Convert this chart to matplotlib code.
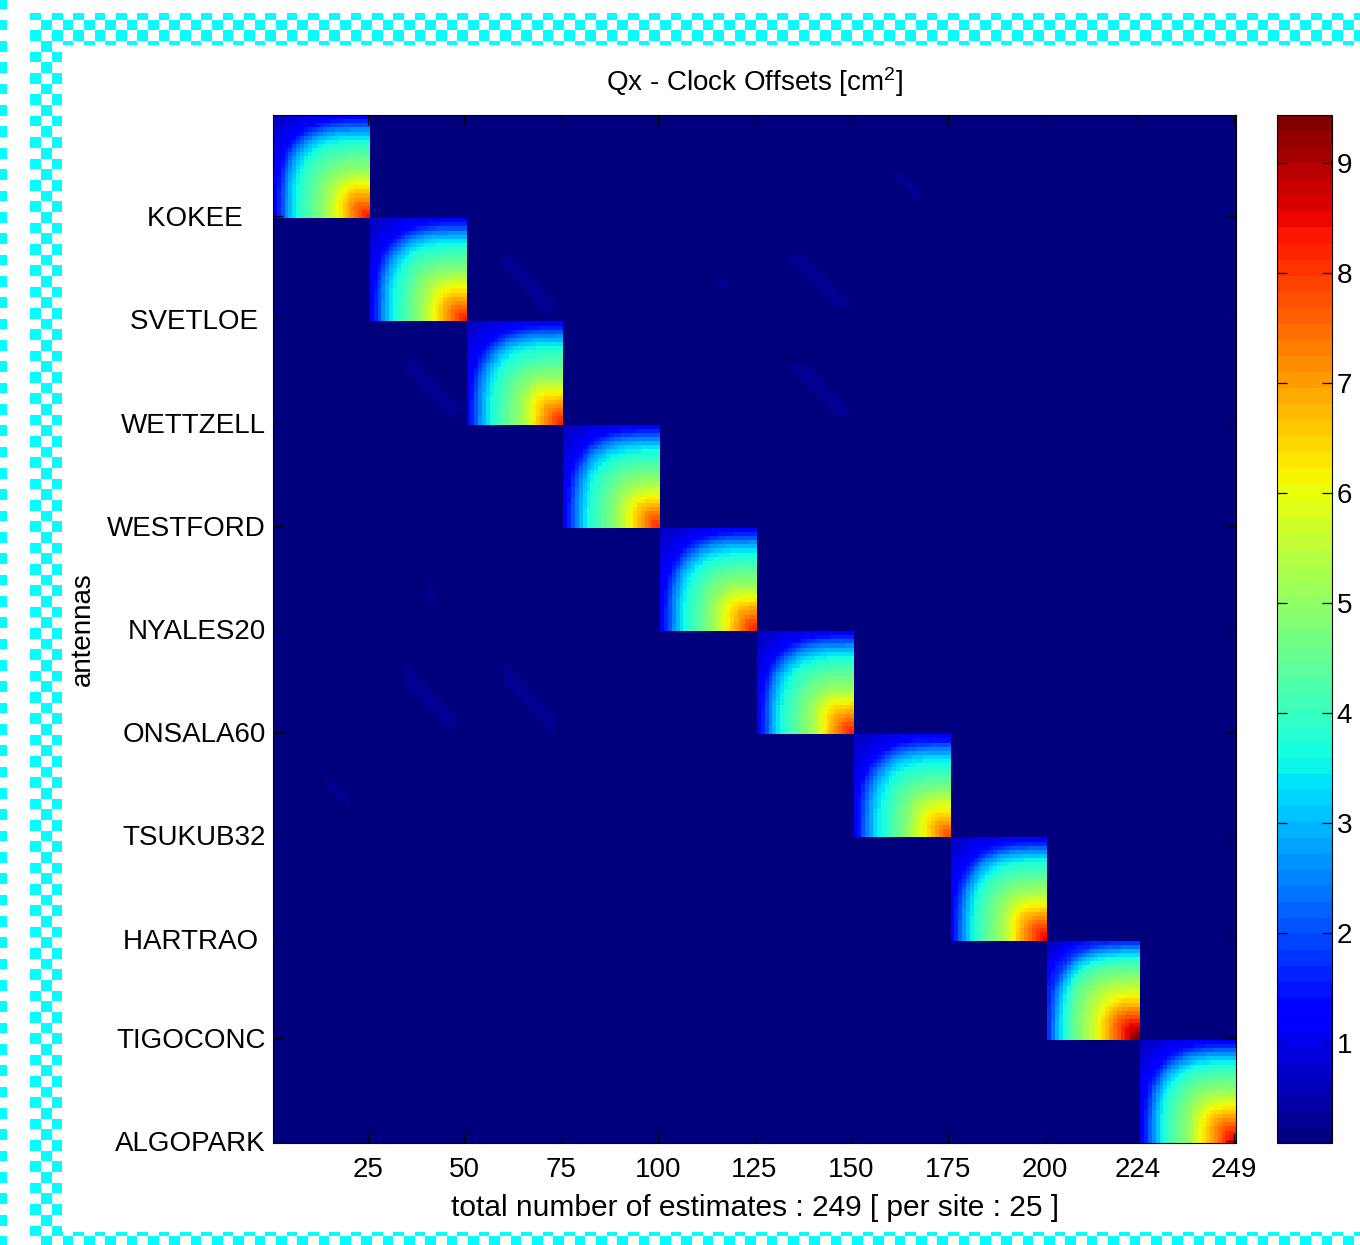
import numpy as np
import matplotlib
matplotlib.use("Agg")
from matplotlib import pyplot as plt

plt.rcParams['font.family'] = ['Liberation Sans', 'DejaVu Sans']
plt.rcParams['mathtext.fontset'] = 'custom'
plt.rcParams['mathtext.rm'] = 'Liberation Sans'
plt.rcParams['mathtext.it'] = 'Liberation Sans'

# stations (padded like the original MATLAB labels)
stations = ['KOKEE   ', 'SVETLOE ', 'WETTZELL', 'WESTFORD', 'NYALES20',
            'ONSALA60', 'TSUKUB32', 'HARTRAO ', 'TIGOCONC', 'ALGOPARK']
block_sizes = [25, 25, 25, 25, 25, 25, 25, 25, 24, 25]
# value at the bottom-right corner of each block [cm^2]
block_peaks = [8.3, 8.3, 8.2, 8.1, 8.2, 8.2, 7.8, 8.6, 9.44, 8.7]
# values read along the bottom row of the KOKEE block [cm^2]
edge_profile = [1.2, 1.6, 2.1, 2.6, 3.0, 3.4, 3.7, 3.9, 4.1, 4.3, 4.5, 4.7, 4.9,
                5.1, 5.4, 5.7, 6.0, 6.3, 6.6, 6.9, 7.2, 7.5, 7.8, 8.1, 8.3]
block_base = 0.7
background = 0.11
# faint correlations between sites: (row, col, length, half width, value)
streaks = [(15, 162, 6, 1, 0.3), (36, 61, 12, 2, 0.3), (41, 116, 2, 1, 0.28),
           (35, 136, 13, 2, 0.38), (61, 136, 13, 2, 0.32), (61, 36, 12, 2, 0.3)]
tick_pos = [25, 50, 75, 100, 125, 150, 175, 200, 224, 249]
cbar_ticks = [1, 2, 3, 4, 5, 6, 7, 8, 9]
vmin, vmax = 0.09, 9.44

n = sum(block_sizes)
Q = np.full((n, n), background)
for r, c, L, hw, v in streaks:
    for k in range(L):
        for d in range(-hw, hw + 1):
            i, j = r - 1 + k, c - 1 + k + d
            Q[i, j] = v
            Q[j, i] = v

# inside a block the value follows the edge profile, by distance from the block corner
edge = np.array(edge_profile)
start = 0
for size, peak in zip(block_sizes, block_peaks):
    e = edge[-size:]
    e = block_base + (e - block_base) * (peak - block_base) / (e[-1] - block_base)
    prof = np.concatenate([[block_base], e])
    pos = np.concatenate([[-5.0], np.arange(size)])
    k = np.arange(size, dtype=float)
    I, J = np.meshgrid(k, k, indexing='ij')
    dist = ((size - 1 - I) ** 3.2 + (size - 1 - J) ** 3.2) ** (1 / 3.2)
    Q[start:start + size, start:start + size] = np.interp(size - 1 - dist, pos, prof)
    start += size

W, H = 1360, 1245
fig = plt.figure(figsize=(W / 100, H / 100), dpi=100)

# checkered border around the figure
yy, xx = np.mgrid[0:H, 0:W]
s = 10.67
cols = np.floor((xx - 30) / s).astype(int)
rows = np.floor((yy - 19.3) / s).astype(int)
odd = (rows + cols) % 2 == 1
band = ((yy >= 13) & (yy < 45) & (xx >= 30)) | ((xx >= 30) & (xx < 62) & (yy >= 13)) \
    | ((yy >= 1232) & (xx >= 30)) | (xx < 7)
rgba = np.zeros((H, W, 4))
rgba[odd & band] = [0, 1, 1, 1]
fig.figimage(rgba, 0, 0, origin='upper', zorder=0)

ax = fig.add_axes([273 / W, 1 - 1143 / H, (1236 - 273) / W, (1143 - 115) / H])
cmap = plt.get_cmap('jet', 64)
im = ax.imshow(Q, cmap=cmap, vmin=vmin, vmax=vmax, aspect='auto',
               interpolation='nearest', extent=(0.5, n + 0.5, n + 0.5, 0.5))
ax.set_xticks(tick_pos)
ax.set_xticklabels([str(t) for t in tick_pos])
ax.set_yticks(tick_pos)
ax.set_yticklabels(stations)
ax.tick_params(direction='in', top=True, right=True, length=7, width=0.9,
               labelsize=20, pad=5)
ax.tick_params(axis='x', pad=10)
ax.set_xlabel('total number of estimates : 249 [ per site : 25 ]', fontsize=21.5, labelpad=8)
ax.set_ylabel('antennas', fontsize=20, labelpad=8)
ax.set_title(r'Qx - Clock Offsets [cm$^{2}$]', fontsize=20, pad=17)

cax = fig.add_axes([1277 / W, 1 - 1143 / H, 55 / W, (1143 - 115) / H])
cb = fig.colorbar(im, cax=cax, ticks=cbar_ticks)
cb.ax.tick_params(direction='in', left=True, right=True, length=7, width=0.9,
                  labelsize=20)
cb.ax.minorticks_off()

fig.savefig('out.png', dpi=100)
